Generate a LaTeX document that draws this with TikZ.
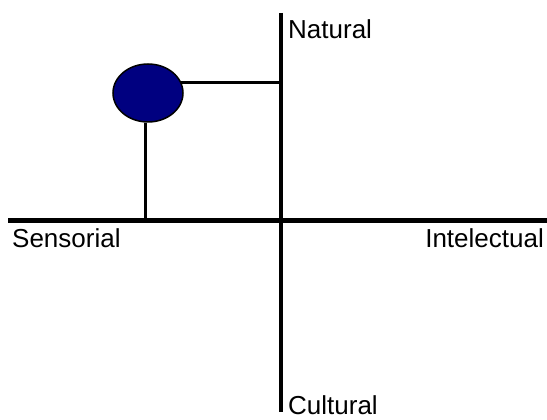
\documentclass[tikz,border=0pt]{standalone}
\usepackage{fontspec}
\setmainfont{Liberation Sans}
\usepackage{xcolor}
\usetikzlibrary{positioning,shapes.geometric}
\definecolor{dotnavy}{RGB}{0,0,128}
\tikzset{
  axisline/.style={
    draw=black,
    line width=3.5pt
  },
  mainaxis/.style={
    draw=black,
    line width=5pt
  },
  linkline/.style={
    draw=black,
    line width=3pt
  },
  dotshape/.style={
    ellipse,
    draw=black,
    line width=1.5pt,
    fill=dotnavy,
    minimum width=70pt,
    minimum height=58pt,
    inner sep=0pt
  },
  axislabel/.style={
    inner sep=0pt,
    font=\fontsize{26}{30}\selectfont
  }
}
\begin{document}
\begin{tikzpicture}[x=1pt,y=1pt]
\useasboundingbox (0,0) rectangle (547,420);
\coordinate (ntop) at (281,407);
\coordinate (sbot) at (281,8);
\coordinate (wleft) at (8,199);
\coordinate (eright) at (547,199);

\draw[axisline] (ntop) -- (sbot);
\draw[mainaxis] (wleft) -- (eright);

\node[dotshape] (dot) at (148,327) {};
\draw[linkline] (dot.18) -- (dot.18 -| ntop);
\draw[linkline] (dot.-95) -- (dot.-95 |- wleft);

\node[axislabel, anchor=west] (natural) at (288,391) {Natural};
\node[axislabel, anchor=west] (cultural) at (288,15) {Cultural};
\node[axislabel, anchor=west] (sensorial) at (12,182) {Sensorial};
\node[axislabel, anchor=east] (intelectual) at (544,182) {Intelectual};
\end{tikzpicture}
\end{document}
